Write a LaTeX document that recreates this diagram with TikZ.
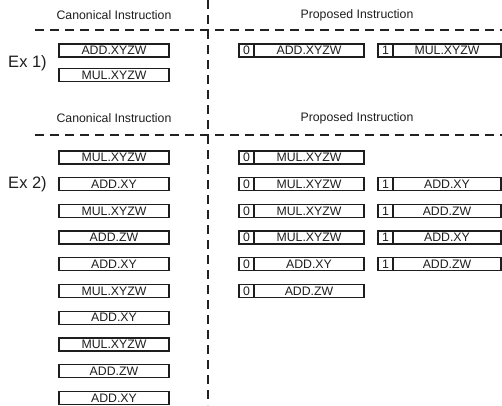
\documentclass[tikz,border=0pt]{standalone}
\usepackage{fontspec}
\setmainfont{Liberation Sans}
\usetikzlibrary{positioning}
\definecolor{ink}{HTML}{1E1E1E}
\definecolor{rule}{HTML}{222222}
\tikzset{
  ins/.style={draw=ink, line width=1.3pt, fill=white, minimum width=110pt,
    minimum height=13pt, inner sep=0pt, outer sep=0pt, text=ink,
    font=\fontsize{12.3pt}{14pt}\selectfont},
  slot/.style={ins, minimum width=15pt},
  wide/.style={ins, minimum width=108pt},
  head/.style={text=ink, inner sep=0pt, font=\fontsize{12.3pt}{14pt}\selectfont},
  exlab/.style={text=ink, inner sep=0pt, font=\fontsize{16.5pt}{19pt}\selectfont},
  sep/.style={draw=rule, line width=1.3pt, dash pattern=on 9pt off 6pt},
}

\begin{document}
\begin{tikzpicture}[x=1pt, y=-1pt]
    \useasboundingbox (0,0) rectangle (502,405);
    % separators
    \draw[sep] (208,0) -- (208,405);
    \draw[sep] (35,30) -- (502,30);
    \draw[sep] (35,135) -- (502,135);
    % headers
    \node[head] (hc1) at (114,15) {Canonical Instruction};
    \node[head] (hp1) at (357,15) {Proposed Instruction};
    \node[head] (hc2) at (114,118) {Canonical Instruction};
    \node[head] (hp2) at (357,118) {Proposed Instruction};
    % Ex 1
    \node[exlab] (ex1) at (27.5,63) {Ex 1)};
    \node[ins] (a1) at (114,50.5) {ADD.XYZW};
    \node[ins, below=11.5pt of a1] (a2) {MUL.XYZW};
    \node[slot, right=70pt of a1] (a1s0) {0};
    \node[ins, right=0pt of a1s0] (a1i0) {ADD.XYZW};
    \node[slot, right=14pt of a1i0] (a1s1) {1};
    \node[wide, right=0pt of a1s1] (a1i1) {MUL.XYZW};
    % Ex 2, canonical order
    \node[exlab] (ex2) at (27.5,184) {Ex 2)};
    \node[ins] (b1) at (114,157.5) {MUL.XYZW};
    \node[ins, below=13.7pt of b1] (b2) {ADD.XY};
    \node[ins, below=13.7pt of b2] (b3) {MUL.XYZW};
    \node[ins, below=13.7pt of b3] (b4) {ADD.ZW};
    \node[ins, below=13.7pt of b4] (b5) {ADD.XY};
    \node[ins, below=13.7pt of b5] (b6) {MUL.XYZW};
    \node[ins, below=13.7pt of b6] (b7) {ADD.XY};
    \node[ins, below=13.7pt of b7] (b8) {MUL.XYZW};
    \node[ins, below=13.7pt of b8] (b9) {ADD.ZW};
    \node[ins, below=13.7pt of b9] (b10) {ADD.XY};
    % Ex 2, proposed pairs
    \node[slot, right=70pt of b1] (b1s0) {0};
    \node[ins, right=0pt of b1s0] (b1i0) {MUL.XYZW};
    \node[slot, right=70pt of b2] (b2s0) {0};
    \node[ins, right=0pt of b2s0] (b2i0) {MUL.XYZW};
    \node[slot, right=14pt of b2i0] (b2s1) {1};
    \node[wide, right=0pt of b2s1] (b2i1) {ADD.XY};
    \node[slot, right=70pt of b3] (b3s0) {0};
    \node[ins, right=0pt of b3s0] (b3i0) {MUL.XYZW};
    \node[slot, right=14pt of b3i0] (b3s1) {1};
    \node[wide, right=0pt of b3s1] (b3i1) {ADD.ZW};
    \node[slot, right=70pt of b4] (b4s0) {0};
    \node[ins, right=0pt of b4s0] (b4i0) {MUL.XYZW};
    \node[slot, right=14pt of b4i0] (b4s1) {1};
    \node[wide, right=0pt of b4s1] (b4i1) {ADD.XY};
    \node[slot, right=70pt of b5] (b5s0) {0};
    \node[ins, right=0pt of b5s0] (b5i0) {ADD.XY};
    \node[slot, right=14pt of b5i0] (b5s1) {1};
    \node[wide, right=0pt of b5s1] (b5i1) {ADD.ZW};
    \node[slot, right=70pt of b6] (b6s0) {0};
    \node[ins, right=0pt of b6s0] (b6i0) {ADD.ZW};
  \end{tikzpicture}
\end{document}
